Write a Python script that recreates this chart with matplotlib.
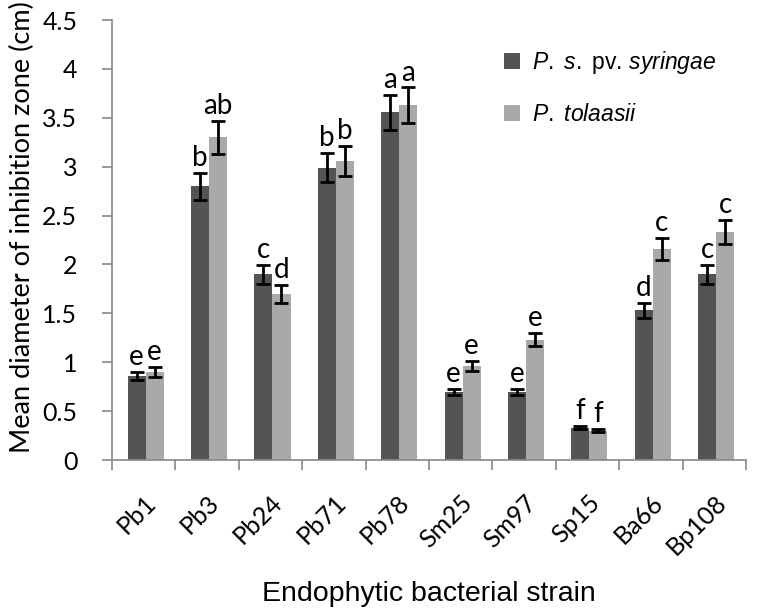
import matplotlib
matplotlib.use("Agg")
import matplotlib.pyplot as plt
import numpy as np

strains = ["Pb1", "Pb3", "Pb24", "Pb71", "Pb78", "Sm25", "Sm97", "Sp15", "Ba66", "Bp108"]
pss_mean = [0.86, 2.80, 1.90, 2.99, 3.555, 0.70, 0.70, 0.33, 1.53, 1.90]
pss_err = [0.045, 0.14, 0.095, 0.15, 0.175, 0.03, 0.03, 0.015, 0.075, 0.095]
pt_mean = [0.90, 3.30, 1.70, 3.06, 3.63, 0.96, 1.23, 0.30, 2.16, 2.33]
pt_err = [0.05, 0.17, 0.09, 0.155, 0.18, 0.05, 0.065, 0.015, 0.11, 0.12]
pss_letters = ["e", "b", "c", "b", "a", "e", "e", "f", "d", "c"]
pt_letters = ["e", "ab", "d", "b", "a", "e", "e", "f", "c", "c"]
yticks = [0, 0.5, 1, 1.5, 2, 2.5, 3, 3.5, 4, 4.5]
ytick_labels = ["0", "0.5", "1", "1.5", "2", "2.5", "3", "3.5", "4", "4.5"]

plt.rcParams['mathtext.fontset'] = 'custom'
plt.rcParams['mathtext.it'] = 'Liberation Sans:italic'
plt.rcParams['mathtext.rm'] = 'Liberation Sans'

tick_font = ['Lato', 'DejaVu Sans']

fig = plt.figure(figsize=(7.58, 6.08), dpi=100)
ax = fig.add_axes([0.1478, 0.2434, 0.8364, 0.7237])

x = np.arange(len(strains))
w = 0.285
off = 0.03
dark = '#545454'
light = '#a9a9a9'
ax.bar(x - w/2 + off, pss_mean, w, color=dark,
       label=r"$\mathit{P.}$ $\mathit{s.}$ pv. $\mathit{syringae}$", zorder=2)
ax.bar(x + w/2 + off, pt_mean, w, color=light, label=r"$\mathit{P.}$ $\mathit{tolaasii}$", zorder=2)
ax.errorbar(x - w/2 + off, pss_mean, yerr=pss_err, fmt='none', ecolor='black', elinewidth=2,
            capsize=5, capthick=2, zorder=3)
ax.errorbar(x + w/2 + off, pt_mean, yerr=pt_err, fmt='none', ecolor='black', elinewidth=2,
            capsize=5, capthick=2, zorder=3)

for i in range(len(strains)):
    ax.text(x[i] - w/2 + off, pss_mean[i] + pss_err[i] + 0.02, pss_letters[i], ha='center', va='bottom',
            fontsize=20, family=tick_font)
    ax.text(x[i] + w/2 + off, pt_mean[i] + pt_err[i] + 0.02, pt_letters[i], ha='center', va='bottom',
            fontsize=20, family=tick_font)

ax.set_xlim(-0.5, len(strains) - 0.5)
ax.set_ylim(0, 4.5)
ax.set_yticks(yticks)
ax.set_yticklabels(ytick_labels, fontsize=18, family=tick_font)
ax.set_xticks(x)
ax.set_xticklabels(strains, rotation=45, ha='right', rotation_mode='anchor', fontsize=18, family=tick_font)
ax.tick_params(axis='x', which='major', length=0, pad=22)
ax.set_xticks(np.arange(-0.5, len(strains) + 0.5, 1), minor=True)
ax.tick_params(axis='x', which='minor', length=7, color='#888888', width=1.2)
ax.tick_params(axis='y', length=7, color='#888888', width=1.2, pad=18)

for s in ['top', 'right']:
    ax.spines[s].set_visible(False)
for s in ['left', 'bottom']:
    ax.spines[s].set_color('#888888')
    ax.spines[s].set_linewidth(1.2)

ax.set_ylabel("Mean diameter of inhibition zone (cm)", fontsize=19.5, family=tick_font)
ax.yaxis.set_label_coords(-0.122, 0.53)
ax.set_xlabel("Endophytic bacterial strain", fontsize=20.5, family=['Liberation Sans'])
ax.xaxis.set_label_coords(0.5, -0.275)

leg = ax.legend(loc='upper left', bbox_to_anchor=(0.585, 0.98), frameon=False,
                prop={'family': 'Liberation Sans', 'size': 16.5}, handlelength=0.7, handleheight=0.7,
                labelspacing=1.15, handletextpad=0.55)

fig.savefig("out.png", dpi=100)
